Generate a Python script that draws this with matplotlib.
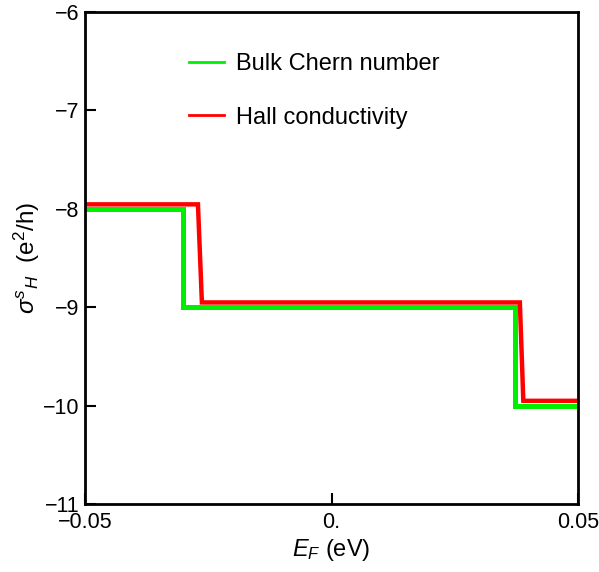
import matplotlib
matplotlib.use("Agg")
import matplotlib.pyplot as plt

plt.rcParams['font.family'] = ['Liberation Sans', 'DejaVu Sans']
plt.rcParams['mathtext.fontset'] = 'custom'
plt.rcParams['mathtext.it'] = 'Liberation Sans:italic'
plt.rcParams['mathtext.rm'] = 'Liberation Sans'

# Bulk Chern number (step function)
chern_x = [-0.05, -0.0302, -0.0302, 0.0372, 0.0372, 0.05]
chern_y = [-8, -8, -9, -9, -10, -10]
# Hall conductivity
hall_x = [-0.05, -0.0271, -0.0263, 0.0382, 0.0389, 0.05]
hall_y = [-7.955, -7.955, -8.952, -8.952, -9.952, -9.952]

xticks = [-0.05, 0.0, 0.05]
xticklabels = ["\u22120.05", "0.", "0.05"]
yticks = [-11, -10, -9, -8, -7, -6]
yticklabels = ["\u221211", "\u221210", "\u22129", "\u22128", "\u22127", "\u22126"]

fig = plt.figure(figsize=(5.99, 5.72), dpi=100)
ax = fig.add_axes([0.142, 0.119, 0.823, 0.860])

ax.plot(chern_x, chern_y, color='#00ee00', lw=3.6, label='Bulk Chern number', solid_joinstyle='miter')
ax.plot(hall_x, hall_y, color='#ff0000', lw=3.2, label='Hall conductivity', solid_joinstyle='miter')

ax.set_xlim(-0.05, 0.05)
ax.set_ylim(-11, -6)
ax.set_xticks(xticks)
ax.set_xticklabels(xticklabels)
ax.set_yticks(yticks)
ax.set_yticklabels(yticklabels)
ax.tick_params(direction='in', length=8, width=1.5, labelsize=15.5,
               top=False, right=False)
ax.tick_params(axis='x', pad=6)
ax.tick_params(axis='y', pad=4)
for s in ax.spines.values():
    s.set_linewidth(2)

ax.set_xlabel(r'$E_F$ (eV)', fontsize=17, labelpad=3)
ax.set_ylabel(r'$\sigma^{s}{}_{H}$  (e$^{2}$/h)', fontsize=17.5, labelpad=1)

leg = ax.legend(loc='upper left', bbox_to_anchor=(0.211, 0.916), frameon=False,
                fontsize=17, handlelength=1.5, handletextpad=0.5, labelspacing=1.33,
                borderpad=0, borderaxespad=0)
for l in leg.get_lines():
    l.set_linewidth(2)

fig.savefig('out.png', dpi=100)
